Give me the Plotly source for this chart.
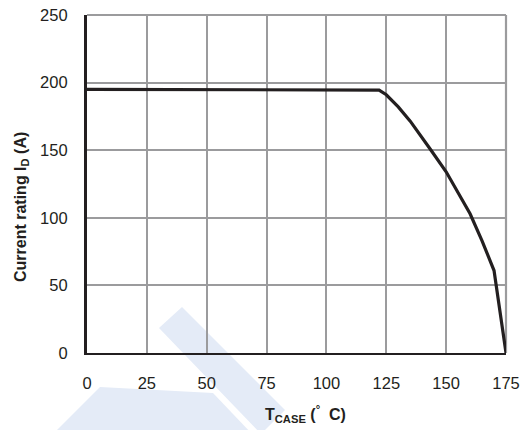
import plotly.graph_objects as go

# Derating curve: drain current rating vs case temperature
t_case = [0, 120, 122, 125, 130, 135, 140, 143.4, 150, 155, 160, 165, 170, 175]
i_d = [195, 195, 194.5, 191, 182, 171.5, 159.5, 150.7, 134, 119, 103, 83, 61, 0]

x_ticks = [0, 25, 50, 75, 100, 125, 150, 175]
y_ticks = [0, 50, 100, 150, 200, 250]

W, H = 526, 430
ML, MR, MT, MB = 87, 20, 15, 77
PW, PH = W - ML - MR, H - MT - MB

INK = "#231f20"
GRID = "#9b9b9d"
WASH = "#e4ebf7"


def px_to_paper(pts):
    return [((x - ML) / PW, (H - MB - y) / PH) for x, y in pts]


def path(pts):
    p = px_to_paper(pts)
    return "M " + " L ".join(f"{x:.4f},{y:.4f}" for x, y in p) + " Z"


# light background stripes
wash_a = [(159, 328), (182, 307), (285, 410), (261, 434)]
wash_b = [(100, 387), (213, 393), (252, 434), (53, 434)]

fig = go.Figure()
fig.add_trace(go.Scatter(
    x=t_case, y=i_d, mode="lines",
    line=dict(color=INK, width=3.2),
    showlegend=False, hoverinfo="skip",
))

shapes = []
for poly in (wash_a, wash_b):
    shapes.append(dict(type="path", path=path(poly), xref="paper", yref="paper",
                       fillcolor=WASH, line=dict(width=0), layer="below"))
# top and right borders
shapes.append(dict(type="line", xref="paper", yref="paper", x0=0, x1=1, y0=1, y1=1,
                   line=dict(color=GRID, width=2.2), layer="below"))
shapes.append(dict(type="line", xref="paper", yref="paper", x0=1, x1=1, y0=0, y1=1,
                   line=dict(color=GRID, width=2.2), layer="below"))

tick_font = dict(family="Liberation Sans, Arial, sans-serif", size=16.5, color=INK)
title_font = dict(family="Liberation Sans, Arial, sans-serif", size=16, color=INK)

fig.update_layout(
    width=W, height=H,
    margin=dict(l=ML, r=MR, t=MT, b=MB),
    paper_bgcolor="white", plot_bgcolor="rgba(0,0,0,0)",
    shapes=shapes,
    xaxis=dict(
        range=[0, 175], tickvals=x_ticks, ticktext=[str(v) for v in x_ticks],
        showgrid=True, gridcolor=GRID, gridwidth=2.2, automargin=False,
        zeroline=False, showline=True, linecolor=INK, linewidth=1.8,
        ticks="", ticklabelstandoff=14, tickfont=tick_font, fixedrange=True,
    ),
    yaxis=dict(
        range=[0, 250], tickvals=y_ticks, ticktext=[str(v) for v in y_ticks],
        showgrid=True, gridcolor=GRID, gridwidth=2.2, automargin=False,
        zeroline=False, showline=True, linecolor=INK, linewidth=3.2,
        ticks="", ticklabelstandoff=13, tickfont=tick_font, fixedrange=True,
    ),
    annotations=[
        dict(text="<b>Current rating I<sub>D</sub> (A)</b>", textangle=-90,
             xref="paper", yref="paper", x=(21 - ML) / PW, y=(H - MB - 207) / PH,
             xanchor="center", yanchor="middle", showarrow=False, font=title_font),
        dict(text="<b>T<sub>CASE</sub> (<sup>°</sup>  C)</b>",
             xref="paper", yref="paper", x=(305 - ML) / PW, y=(H - MB - 414) / PH,
             xanchor="center", yanchor="middle", showarrow=False, font=title_font),
    ],
)

fig.write_html("out.html")
